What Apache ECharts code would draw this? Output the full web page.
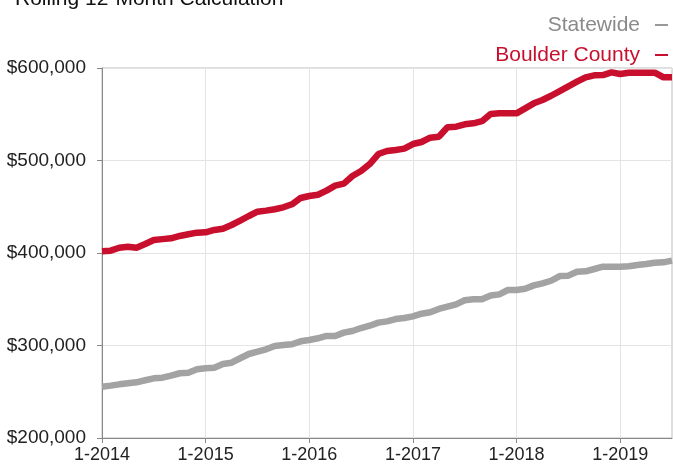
<!DOCTYPE html>
<html>
<head>
<meta charset="UTF-8">
<title>Rolling 12-Month Calculation</title>
<script src="https://cdn.jsdelivr.net/npm/echarts@6/dist/echarts.min.js"></script>
<style>
  body { margin: 0; background: #fff; }
</style>
</head>
<body>
    <div id="main" style="width: 673px; height: 470px;"></div>
    <script>
        // months Jan 2014 .. Jul 2019
        var years = [2014, 2015, 2016, 2017, 2018, 2019];
        var months = [];
        years.forEach(function (y) {
            for (var m = 1; m <= 12; m++) {
                if (y === 2019 && m > 7) break;
                months.push(m + '-' + y);
            }
        });

        var statewide = [
            255500, 256600, 258000, 259100, 260200, 262400, 264500, 265200, 267400, 270000, 270600, 274300,
            275300, 276000, 280000, 281400, 286200, 290800, 293300, 295900, 299500, 300500, 301300, 304500,
            305900, 307800, 310300, 310300, 313900, 315700, 318900, 321400, 324700, 326100, 328600, 329700,
            331500, 334400, 335900, 339500, 342000, 344500, 348900, 350000, 350000, 354000, 355300, 360000,
            360000, 361400, 365000, 367200, 370000, 375100, 375500, 379800, 380200, 382700, 385200, 385200,
            385200, 385600, 387000, 388100, 389500, 389900, 391700
        ];

        var boulder = [
            402000, 402500, 405700, 406800, 405700, 409700, 414000, 415000, 415900, 418400, 420200, 422000,
            422400, 424900, 426300, 430300, 435000, 440000, 444700, 445800, 447300, 449400, 452700, 459500,
            461600, 463000, 467400, 472800, 475000, 483200, 488600, 496200, 507000, 510300, 511400, 512800,
            517800, 520000, 524700, 525700, 535900, 536600, 539100, 540200, 542500, 550300, 551000, 551000,
            551000, 556400, 561800, 565400, 570000, 575100, 580200, 585200, 589900, 592100, 592400, 595300,
            593500, 594900, 595000, 595000, 594900, 590000, 590000
        ];

        var yTicks = [200000, 300000, 400000, 500000, 600000];

        var red = '#c8102e';
        var gray = '#a3a3a3';
        var font = 'Helvetica, "Liberation Sans", Arial, sans-serif';

        var chart = echarts.init(document.getElementById('main'));

        var option = {
            animation: false,
            textStyle: { fontFamily: font },
            title: {
                text: 'Rolling 12-Month Calculation',
                left: 10,
                top: -16,
                textStyle: { fontSize: 21, fontWeight: 'normal', color: '#111', fontFamily: font }
            },
            legend: {
                orient: 'vertical',
                right: 0,
                top: 9,
                align: 'right',
                itemWidth: 13,
                itemHeight: 2,
                itemGap: 8,
                icon: 'rect',
                textStyle: { fontSize: 21, lineHeight: 22, padding: [0, 10, 0, 0], fontFamily: font },
                data: [
                    { name: 'Statewide', itemStyle: { color: '#999' }, textStyle: { color: '#8a8a8a' } },
                    { name: 'Boulder County', itemStyle: { color: red }, textStyle: { color: red } }
                ]
            },
            grid: {
                left: 102,
                right: 1,
                top: 68,
                bottom: 32,
                show: true,
                borderColor: '#bdbdbd',
                borderWidth: 1
            },
            xAxis: {
                type: 'category',
                data: months,
                boundaryGap: false,
                axisLine: { lineStyle: { color: '#888' } },
                axisTick: {
                    length: 5,
                    lineStyle: { color: '#888' },
                    interval: function (i) { return i % 12 === 0; }
                },
                axisLabel: {
                    fontSize: 18,
                    color: '#222',
                    margin: 8,
                    interval: function (i) { return i % 12 === 0; }
                },
                splitLine: {
                    show: true,
                    lineStyle: { color: '#e4e4e4' },
                    interval: function (i) { return i % 12 === 0; }
                }
            },
            yAxis: {
                type: 'value',
                min: yTicks[0],
                max: yTicks[yTicks.length - 1],
                interval: 100000,
                axisLine: { show: true, lineStyle: { color: '#888' } },
                axisTick: { show: true, length: 5, lineStyle: { color: '#888' } },
                axisLabel: {
                    fontSize: 19,
                    color: '#222',
                    margin: 16,
                    formatter: function (v) { return '$' + v.toLocaleString('en-US'); }
                },
                splitLine: { lineStyle: { color: '#e4e4e4' } }
            },
            series: [
                {
                    name: 'Statewide',
                    type: 'line',
                    data: statewide,
                    showSymbol: false,
                    symbol: 'none',
                    lineStyle: { color: gray, width: 6.5 },
                    itemStyle: { color: gray }
                },
                {
                    name: 'Boulder County',
                    type: 'line',
                    data: boulder,
                    showSymbol: false,
                    symbol: 'none',
                    lineStyle: { color: red, width: 6.5 },
                    itemStyle: { color: red }
                }
            ]
        };

        chart.setOption(option);
    </script>
</body>
</html>
